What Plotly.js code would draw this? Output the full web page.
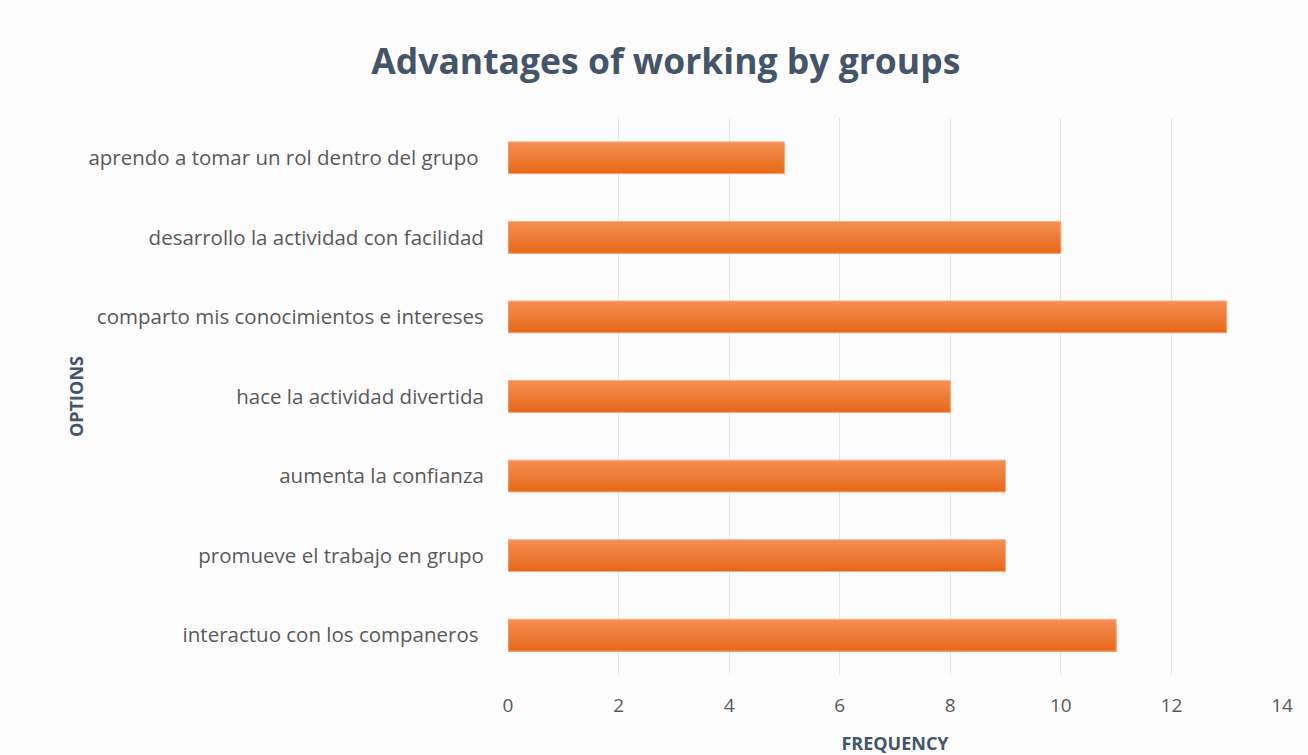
<!DOCTYPE html>
<html>
<head>
<meta charset="utf-8">
<script src="https://cdn.plot.ly/plotly-3.0.1.min.js"></script>
<style>html,body{margin:0;padding:0;background:#fdfdfd;}#chart{width:1308px;height:755px;}</style>
</head>
<body>
<div id="chart"></div>
<script>
const categories = [
  "interactuo con los companeros ",
  "promueve el trabajo en grupo",
  "aumenta la confianza",
  "hace la actividad divertida",
  "comparto mis conocimientos e intereses",
  "desarrollo la actividad con facilidad",
  "aprendo a tomar un rol dentro del grupo "
];
const frequency = [11, 9, 9, 8, 13, 10, 5];
const xTicks = [0, 2, 4, 6, 8, 10, 12, 14];

const FONT = "'Open Sans', sans-serif";

// vertical gradient of each bar (top light -> bottom dark):
// nested bands that all start at the bar's bottom edge, drawn lightest/tallest first
const topColor = [245, 143, 84];
const bottomColor = [231, 104, 26];
const BAR_W = 0.4, N = 16;
const traces = [];
for (let i = 0; i < N; i++) {
  const t = i / (N - 1);
  const c = topColor.map((v, k) => Math.round(v + (bottomColor[k] - v) * t));
  const w = BAR_W / N;
  traces.push({
    type: "bar", orientation: "h",
    y: categories, x: frequency,
    width: BAR_W - i * w, offset: -BAR_W / 2,
    marker: {color: `rgb(${c.join(",")})`, line: {width: 0}},
    hoverinfo: "skip"
  });
}
traces.push({
  type: "bar", orientation: "h",
  y: categories, x: frequency,
  width: BAR_W, offset: -BAR_W / 2,
  marker: {color: "rgba(0,0,0,0)", line: {color: "#F7B184", width: 1}},
  hoverinfo: "x+y"
});

const layout = {
  width: 1308, height: 755,
  paper_bgcolor: "#fdfdfd", plot_bgcolor: "#fdfdfd",
  margin: {l: 508, r: 26, t: 118, b: 80, pad: 0},
  showlegend: false,
  barmode: "overlay",
  title: {text: "<b>Advantages of working by groups</b>", x: 0.509, xanchor: "center", y: 0.918, yanchor: "middle",
          font: {family: FONT, size: 35.5, color: "#44546A"}},
  xaxis: {
    range: [0, 14], tickvals: xTicks, ticktext: xTicks.map(String),
    showgrid: true, gridcolor: "#E3E7EC", gridwidth: 1, zeroline: false,
    showline: false, ticks: "outside", ticklen: 13, tickcolor: "rgba(0,0,0,0)",
    tickfont: {family: FONT, size: 19, color: "#595959"},
    title: {text: "<b>FREQUENCY</b>", font: {family: FONT, size: 18, color: "#44546A"}, standoff: 22}
  },
  yaxis: {
    type: "category", categoryorder: "array", categoryarray: categories,
    showgrid: false, zeroline: false, showline: false, ticks: "outside", ticklen: 19, tickcolor: "rgba(0,0,0,0)",
    tickfont: {family: FONT, size: 20.5, color: "#595959"},
    title: {text: "<b>OPTIONS</b>", font: {family: FONT, size: 18, color: "#44546A"}, standoff: 0}
  }
};

Plotly.newPlot("chart", traces, layout, {displayModeBar: false, staticPlot: true});
</script>
</body>
</html>
